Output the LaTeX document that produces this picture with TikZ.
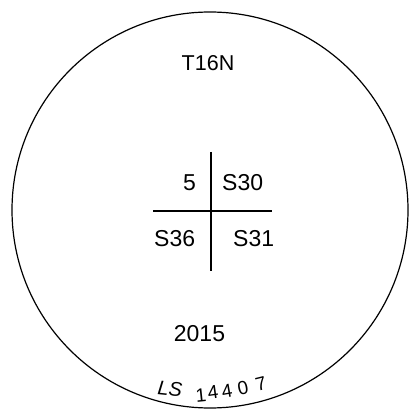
\documentclass[tikz,border=0pt]{standalone}
\usepackage{fontspec}
\setmainfont{Liberation Sans}
\begin{document}
\begin{tikzpicture}[x=1pt,y=-1pt,
  lbl/.style={inner sep=0pt, font=\fontsize{23}{23}\selectfont},
  stamp/.style={inner sep=0pt, font=\fontsize{19}{19}\selectfont},
  rule/.style={line width=1.4pt}]
\useasboundingbox (0,0) rectangle (408,411);
\node[draw, circle, line width=1.2pt, minimum size=396pt, inner sep=0pt] (c) at (210,210) {};
\coordinate (vt) at (211,152);
\coordinate (vb) at (211,271);
\coordinate (hl) at (153,211);
\coordinate (hr) at (272,211);
\draw[rule] (vt) -- (vb);
\draw[rule] (hl) -- (hr);
\node[lbl, font=\fontsize{21.5}{21.5}\selectfont] (t) at (208,63) {T16N};
\node[lbl, anchor=east] (n5) at (196,182.5) {5};
\node[lbl, anchor=west] (s30) at (222,182.5) {S30};
\node[lbl, anchor=west] (s36) at (154,238.5) {S36};
\node[lbl, anchor=west] (s31) at (233,238.5) {S31};
\node[lbl] (yr) at (199.5,334) {2015};
\node[stamp, rotate=-6, font=\fontsize{20}{20}\selectfont\itshape] (ls) at (170,389) {LS};
\node[stamp, rotate=6] (d1) at (201,395) {1};
\node[stamp, rotate=8] (d2) at (213,392) {4};
\node[stamp, rotate=10] (d3) at (227,391) {4};
\node[stamp, rotate=12] (d4) at (243,388) {0};
\node[stamp, rotate=14] (d5) at (261,384) {7};
\end{tikzpicture}
\end{document}
